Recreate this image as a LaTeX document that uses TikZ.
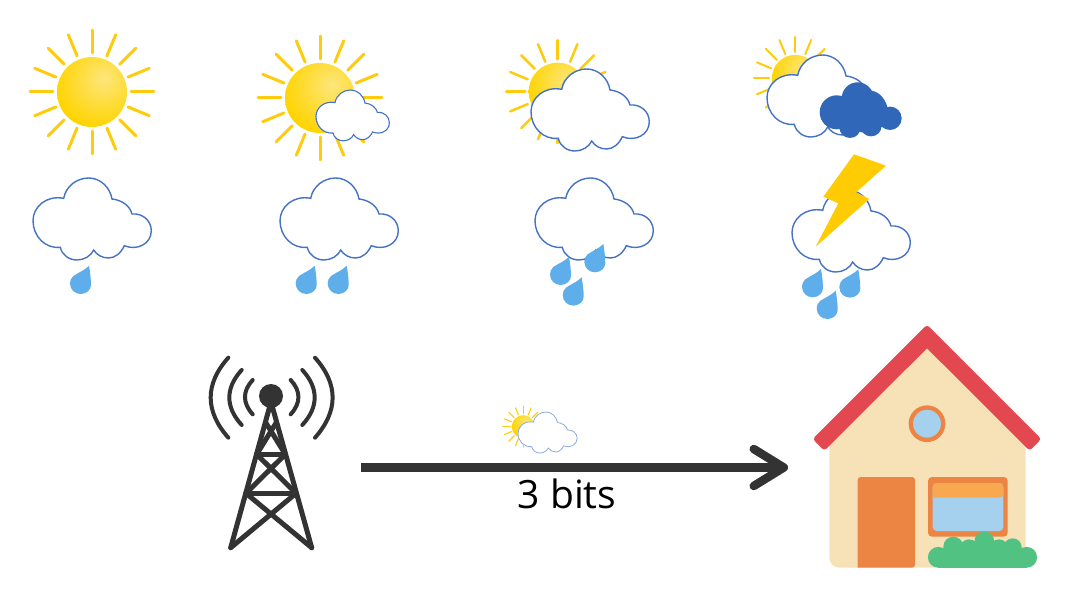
\documentclass[tikz,border=0pt]{standalone}
\usepackage{xcolor}
\usepackage{fontspec}
\setmainfont{Open Sans}
\usetikzlibrary{arrows.meta}
\definecolor{sunray}{HTML}{FFCC0D}
\definecolor{sunbody}{HTML}{FFD400}
\definecolor{sunglow}{HTML}{FDE67C}
\definecolor{cloudline}{HTML}{4472C4}
\definecolor{darkcloud}{HTML}{3067B9}
\definecolor{raindrop}{HTML}{5FAEEC}
\definecolor{bolt}{HTML}{FFCC03}
\definecolor{tower}{HTML}{333333}
\definecolor{wall}{HTML}{F7E2B8}
\definecolor{roof}{HTML}{E34850}
\definecolor{trim}{HTML}{EC8443}
\definecolor{pane}{HTML}{A5D0EE}
\definecolor{awning}{HTML}{F8A84E}
\definecolor{bush}{HTML}{52C282}
\pgfdeclareradialshading{sunshade}{\pgfpoint{9bp}{10bp}}{color(0bp)=(sunglow); color(33bp)=(sunbody); color(100bp)=(sunbody)}

\begin{document}
\begin{tikzpicture}[x=1pt,y=-1pt]
\tikzstyle{outline} =[draw=cloudline,fill=white,line width=1.4pt]
\tikzstyle{drop} =[fill=raindrop]
\tikzstyle{mast} =[draw=tower,line width=5pt,line cap=round,line join=round]
\tikzstyle{wave} =[draw=tower,line width=4pt,line cap=round]
\tikzset{sunpic/.pic={
  \foreach \a in {0,22.5,...,337.5}
    \draw[sunray,line cap=round] (\a:39) -- (\a:62);
  \shade[shading=sunshade] (0,0) circle[radius=35];
}}
\tikzset{cloudpic/.pic={
  \path[outline] (30.7,20.3) .. controls (33,8) and (44,0) .. (55.7,0)
    .. controls (67,0) and (77,9) .. (79,21)
    .. controls (89,22) and (97,28) .. (99,36)
    .. controls (110,35) and (118.3,43) .. (118.3,52.7)
    .. controls (118.3,66) and (104,73) .. (91.3,67.7)
    .. controls (88,75) and (82,80) .. (75.7,80)
    .. controls (69,80) and (64,77) .. (60.7,72)
    .. controls (58,78) and (51,82) .. (44,82)
    .. controls (36,82) and (29,77) .. (27.3,69.3)
    .. controls (12,71) and (0,58) .. (0,42.7)
    .. controls (0,29) and (13,17) .. (30.7,20.3) -- cycle;
}}
\tikzset{droppic/.pic={
  \path[drop] (0,0) .. controls (-5,5) and (-10,6.5) .. (-15.7,10.3)
    .. controls (-18,12.5) and (-19,15) .. (-19,17.7)
    .. controls (-19,24) and (-14,28.3) .. (-8.3,28.3)
    .. controls (-2.5,28.3) and (2,24) .. (2,19.3)
    .. controls (2,13) and (1,6) .. (0,0) -- cycle;
}}
\useasboundingbox (0,0) rectangle (1080,607);

% top row
\pic[line width=3pt] at (92,92) {sunpic};

\pic[line width=3pt] at (320,98) {sunpic};
\pic[scale=.62,outline/.append style={line width=1.1pt}] at (316,90) {cloudpic};

\pic[scale=.83,line width=2.5pt] at (557.7,91.7) {sunpic};
\pic at (531,69) {cloudpic};

\pic[scale=.67,line width=2pt] at (795.3,78.3) {sunpic};
\pic at (767,55) {cloudpic};
\fill[darkcloud] (836.7,112.3) circle[radius=17] (857.7,98.3) circle[radius=16]
  (890,118.3) circle[radius=11.7] (850,127.3) circle[radius=10.7]
  (871,125.7) circle[radius=10.7] (867,112) circle[radius=21];

% rain row
\pic at (33,178) {cloudpic};
\pic at (89,265.7) {droppic};

\pic at (280,178) {cloudpic};
\pic at (314.7,265.7) {droppic};
\pic at (346.7,265.7) {droppic};

\pic at (535,178) {cloudpic};
\pic at (569,256.7) {droppic};
\pic at (603.3,244) {droppic};
\pic at (581.7,277.3) {droppic};

\pic at (792,190) {cloudpic};
\pic at (821,269) {droppic};
\pic at (858.3,269.3) {droppic};
\pic at (835.7,290.7) {droppic};
\fill[bolt] (854,154.3) -- (886,165.7) -- (856,192.3) -- (869.3,199) -- (815.7,246.7)
  -- (838.3,203.3) -- (823.3,196.7) -- cycle;

% tower
\fill[tower] (271,396) circle[radius=12];
\draw[mast] (269.3,408) -- (230.7,547.7);
\draw[mast] (272.7,408) -- (311.7,547.7);
\draw[mast] (256.7,454.3) -- (285.3,454.3);
\draw[mast] (246,493.3) -- (296,493.3);
\draw[mast] (256.7,454.3) -- (276,423);
\draw[mast] (285.3,454.3) -- (266,423);
\draw[mast] (256.7,454.3) -- (296,493.3);
\draw[mast] (285.3,454.3) -- (246,493.3);
\draw[mast] (246,493.3) -- (311.7,547.7);
\draw[mast] (296,493.3) -- (230.7,547.7);
\draw[wave] (252.7,380) .. controls (242.4,391) and (242.4,403) .. (252.7,414.3);
\draw[wave] (241.7,370) .. controls (225.2,388) and (225.2,407) .. (241.7,425);
\draw[wave] (228.3,357.7) .. controls (204.8,384) and (204.8,411) .. (228.3,437.7);
\draw[wave] (290.7,380) .. controls (301,391) and (301,403) .. (290.7,414.3);
\draw[wave] (302.3,370) .. controls (318.8,388) and (318.8,407) .. (302.3,425);
\draw[wave] (315,357.7) .. controls (338.5,384) and (338.5,411) .. (315,437.7);

% link
\coordinate (linkstart) at (361,467.5);
\coordinate (linkend) at (788,467.5);
\draw[tower,line width=8.5pt,-{Straight Barb[length=30pt,width=37pt,round]}] (linkstart) -- (linkend);
\pic[scale=.33,line width=1.1pt] at (523.3,426.7) {sunpic};
\pic[scale=.5,outline/.append style={line width=.8pt,draw=cloudline!60}] at (518,412) {cloudpic};
\node[text=black,font=\fontsize{39}{44}\selectfont](bitlabel) at (567,494){3 bits};

% house
\fill[wall] (829.3,440) [rounded corners=10pt] -- (829.3,567.7) -- (1025.7,567.7) [sharp corners] -- (1025.7,440) -- (927,335) -- cycle;
\fill[roof,rounded corners=3pt] (927,324.7) -- (1041.3,439) -- (1029.7,450.7) [sharp corners] -- (927,348.3)
  [rounded corners=3pt] -- (824.3,450.7) -- (812.7,439) -- cycle;
\draw[trim,fill=pane,line width=4.3pt] (927,423.7) circle[radius=16.2];
\fill[trim,rounded corners=3pt] (857.7,567.7) -- (857.7,477) -- (915,477) -- (915,567.7) [sharp corners] -- cycle;
\fill[trim,rounded corners=4pt] (928,477) rectangle (1007.7,536.7);
\fill[pane,rounded corners=4pt] (932.7,483) rectangle (1003.3,531);
\fill[awning,rounded corners=4pt] (932.7,497.7) -- (932.7,483) -- (1003.3,483) -- (1003.3,497.7) [sharp corners] -- cycle;
\fill[bush] (938,548) rectangle (1027,567.7);
\fill[bush] (938.3,557.3) circle[radius=10.4] (1026.7,557.3) circle[radius=10.4]
  (953.3,546.7) circle[radius=10] (969,548.3) circle[radius=9] (984.3,541.7) circle[radius=10]
  (999,548.3) circle[radius=9] (1012.7,547.3) circle[radius=9];
\end{tikzpicture}
\end{document}
